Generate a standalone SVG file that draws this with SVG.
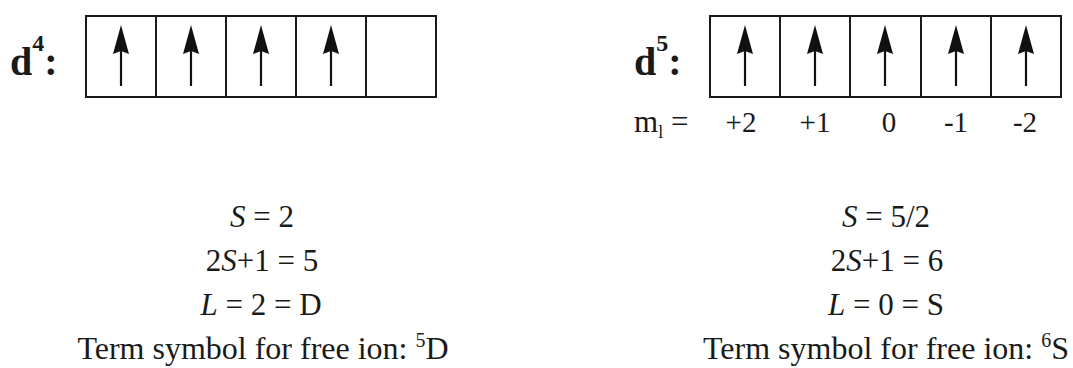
<svg xmlns="http://www.w3.org/2000/svg" xmlns:xlink="http://www.w3.org/1999/xlink" width="1073" height="368" viewBox="0 0 1073 368">
<style>
.box{fill:none;stroke:#1a1a1a;stroke-width:2}
.t{font-family:"Liberation Serif","Times New Roman",serif;font-size:31px;fill:#1a1a1a}
.term{font-size:32px}
.c{text-anchor:middle}
.lbl{font-family:"Liberation Serif","Times New Roman",serif;font-weight:bold;font-size:40px;fill:#1a1a1a}
.ml{font-family:"Liberation Serif","Times New Roman",serif;font-size:29px;fill:#1a1a1a;text-anchor:middle}
</style>
<defs>
<g id="up">
<line x1="0" y1="86" x2="0" y2="48" stroke="#111" stroke-width="2.2"/>
<polygon points="0,25 8,54 0,51 -8,54" fill="#111"/>
</g>
</defs>
<rect width="1073" height="368" fill="#fff"/>
<g id="d4-config">
<text class="lbl" x="10" y="75">d<tspan font-size="24" dy="-24">4</tspan><tspan dy="24">:</tspan></text>
<rect class="box" x="86" y="16" width="350" height="81"/>
<line class="box" x1="156" y1="16" x2="156" y2="97"/>
<line class="box" x1="226" y1="16" x2="226" y2="97"/>
<line class="box" x1="296" y1="16" x2="296" y2="97"/>
<line class="box" x1="366" y1="16" x2="366" y2="97"/>
<use xlink:href="#up" x="121"/>
<use xlink:href="#up" x="191"/>
<use xlink:href="#up" x="261"/>
<use xlink:href="#up" x="331"/>
</g>
<g id="d5-config">
<text class="lbl" x="634" y="75">d<tspan font-size="24" dy="-24">5</tspan><tspan dy="24">:</tspan></text>
<rect class="box" x="710" y="16" width="351" height="81"/>
<line class="box" x1="780" y1="16" x2="780" y2="97"/>
<line class="box" x1="850" y1="16" x2="850" y2="97"/>
<line class="box" x1="921" y1="16" x2="921" y2="97"/>
<line class="box" x1="991" y1="16" x2="991" y2="97"/>
<use xlink:href="#up" x="745"/>
<use xlink:href="#up" x="815"/>
<use xlink:href="#up" x="885"/>
<use xlink:href="#up" x="956"/>
<use xlink:href="#up" x="1026"/>
</g>
<g id="ml-labels">
<text class="t" x="634" y="132" font-size="29">m<tspan font-size="18" dy="6">l</tspan><tspan dy="-6"> =</tspan></text>
<text class="ml" x="741" y="132">+2</text>
<text class="ml" x="815" y="132">+1</text>
<text class="ml" x="889" y="132">0</text>
<text class="ml" x="956" y="132">-1</text>
<text class="ml" x="1025" y="132">-2</text>
</g>
<g id="d4-terms">
<text class="t c" x="262" y="227"><tspan font-style="italic">S</tspan> = 2</text>
<text class="t c" x="262" y="271">2<tspan font-style="italic">S</tspan>+1 = 5</text>
<text class="t c" x="261" y="315"><tspan font-style="italic">L</tspan> = 2 = D</text>
<text class="t c term" x="263" y="359">Term symbol for free ion: <tspan font-size="20" dy="-12">5</tspan><tspan dy="12">D</tspan></text>
</g>
<g id="d5-terms">
<text class="t c" x="886" y="227"><tspan font-style="italic">S</tspan> = 5/2</text>
<text class="t c" x="887" y="271">2<tspan font-style="italic">S</tspan>+1 = 6</text>
<text class="t c" x="886" y="315"><tspan font-style="italic">L</tspan> = 0 = S</text>
<text class="t c term" x="886" y="359">Term symbol for free ion: <tspan font-size="20" dy="-12">6</tspan><tspan dy="12">S</tspan></text>
</g>
</svg>
